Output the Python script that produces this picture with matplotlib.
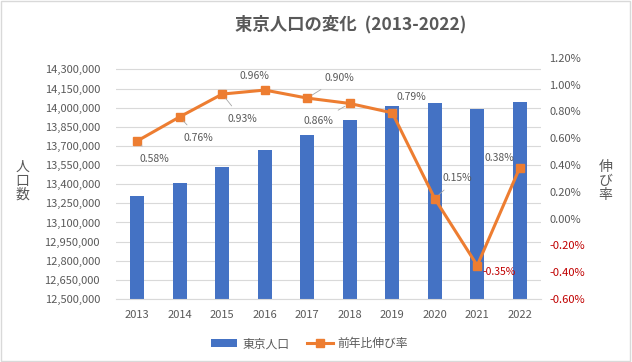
import matplotlib
matplotlib.use("Agg")
import matplotlib.pyplot as plt
from matplotlib.patches import Rectangle
from matplotlib.ticker import FuncFormatter, FixedLocator

plt.rcParams['font.family'] = ['Noto Sans CJK JP', 'DejaVu Sans']

years = ['2013', '2014', '2015', '2016', '2017', '2018', '2019', '2020', '2021', '2022']
population = [13306000, 13410000, 13535000, 13665000, 13788000,
              13906000, 14016000, 14037000, 13988000, 14041000]
growth = [0.58, 0.76, 0.93, 0.96, 0.90, 0.86, 0.79, 0.15, -0.35, 0.38]

# label offsets in pixels (dx, dy) and whether a leader line is drawn
label_offsets = [(17, -18), (19, -21), (20, -25), (-10, 14), (32, 20),
                 (-31, -18), (19, 16), (23, 21), (22, -6), (-20, 10)]
leader = [True, True, True, False, True, True, True, True, False, False]

grey = '#595959'
red = '#C00000'
blue = '#4472C4'
orange = '#ED7D31'

fig = plt.figure(figsize=(6.32, 3.62), dpi=100)
ax = fig.add_axes([0.1835, 0.174, 0.6725, 0.666])
ax2 = ax.twinx()

x = list(range(len(years)))
ax.bar(x, population, width=0.33, color=blue, zorder=2, label='東京人口')
ax.set_ylim(12500000, 14390000)
ax.yaxis.set_major_locator(FixedLocator(range(12500000, 14300001, 150000)))
ax.yaxis.set_major_formatter(FuncFormatter(lambda v, p: f'{int(v):,}'))
ax.set_xlim(-0.5, len(years) - 0.5)
ax.set_xticks(x)
ax.set_xticklabels(years)
ax.grid(axis='y', color='#D9D9D9', linewidth=0.8, zorder=0)
ax.set_axisbelow(True)

ax2.plot(x, growth, color=orange, linewidth=2.2, marker='s', markersize=6,
         zorder=3, label='前年比伸び率')
ax2.set_ylim(-0.6, 1.2)
ax2.set_yticks([-0.6 + 0.2 * i for i in range(10)])
ax2.yaxis.set_major_formatter(FuncFormatter(lambda v, p: f'{v:.2f}%'))
ax.set_zorder(ax2.get_zorder() - 1)
ax.patch.set_visible(False)

for a in (ax, ax2):
    for s in a.spines.values():
        s.set_visible(False)
    a.tick_params(length=0, labelsize=8, colors=grey)
ax.spines['bottom'].set_visible(True)
ax.spines['bottom'].set_color('#D9D9D9')
ax.tick_params(axis='x', pad=8)
ax.tick_params(axis='y', pad=11.5)
ax2.tick_params(axis='y', pad=6)
for t, v in zip(ax2.get_yticklabels(), ax2.get_yticks()):
    if v < -1e-9:
        t.set_color(red)

for i, (g, off, ld) in enumerate(zip(growth, label_offsets, leader)):
    ax2.annotate(f'{g:.2f}%', xy=(i, g), xytext=off, textcoords='offset pixels',
                 ha='center', va='center', fontsize=7.5,
                 color=red if g < 0 else grey,
                 arrowprops=dict(arrowstyle='-', color='#A6A6A6', lw=0.6,
                                 shrinkA=5, shrinkB=4) if ld else None)

fig.text(0.555, 0.933, '東京人口の変化  (2013-2022)', ha='center', va='center',
         fontsize=12.5, fontweight='bold', color=grey)
fig.text(0.035, 0.50, '人\n口\n数', ha='center', va='center', fontsize=10,
         color=grey, linespacing=1.0)
fig.text(0.958, 0.50, '伸\nび\n率', ha='center', va='center', fontsize=10,
         color=grey, linespacing=1.0)

h1, l1 = ax.get_legend_handles_labels()
h2, l2 = ax2.get_legend_handles_labels()
fig.legend(h1 + h2, l1 + l2, loc='center', bbox_to_anchor=(0.49, 0.05), ncol=2,
           frameon=False, fontsize=8.5, labelcolor=grey, handlelength=2.2,
           columnspacing=1.5, handletextpad=0.4)

fig.add_artist(Rectangle((0.002, 0.003), 0.995, 0.993, transform=fig.transFigure,
                         fill=False, edgecolor='#D9D9D9', linewidth=1))

fig.savefig('out.png', dpi=100)
